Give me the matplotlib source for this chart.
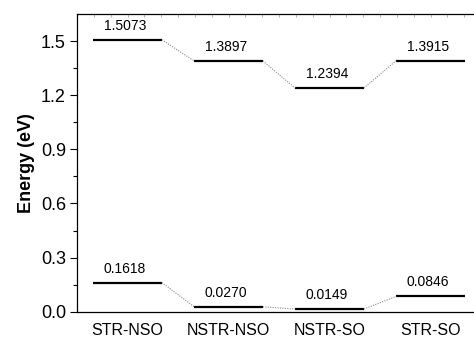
import matplotlib
matplotlib.use("Agg")
import matplotlib.pyplot as plt
import numpy as np

categories = ["STR-NSO", "NSTR-NSO", "NSTR-SO", "STR-SO"]
upper_levels = [1.5073, 1.3897, 1.2394, 1.3915]
lower_levels = [0.1618, 0.0270, 0.0149, 0.0846]
yticks = [0.0, 0.3, 0.6, 0.9, 1.2, 1.5]

plt.rcParams['font.family'] = ['Liberation Sans', 'DejaVu Sans']

fig = plt.figure(figsize=(4.74, 3.38), dpi=100)
ax = fig.add_axes([77/474, 1-311.7/338, 1-77/474, (311.7-14)/338])

hw = 0.34
x = np.arange(len(categories))
for levels in (upper_levels, lower_levels):
    for i, v in enumerate(levels):
        ax.plot([x[i]-hw, x[i]+hw], [v, v], color='black', lw=1.6, solid_capstyle='butt')
        ax.annotate(f"{v:.4f}", (x[i], v), xytext=(-2, 5), textcoords='offset points',
                    ha='center', va='bottom', fontsize=10)
    for i in range(len(levels)-1):
        ax.plot([x[i]+hw, x[i+1]-hw], [levels[i], levels[i+1]], color='#888888',
                lw=0.8, ls=(0, (1, 1.2)))

ax.set_xlim(-0.5, 3.43)
ax.set_ylim(0, 1.65)
ax.set_xticks(x)
ax.set_xticklabels(categories, fontsize=11.5)
ax.tick_params(axis='x', length=0, pad=8)
ax.set_yticks(yticks)
ax.set_yticklabels([f"{t:.1f}" for t in yticks], fontsize=13)
ax.set_yticks(np.arange(0.15, 1.65, 0.3), minor=True)
ax.tick_params(axis='y', which='major', direction='out', length=5, width=0.8, pad=3)
ax.tick_params(axis='y', which='minor', direction='out', length=3, width=0.8)
ax.set_ylabel("Energy (eV)", fontsize=13, fontweight='bold', labelpad=4)
ax.spines['right'].set_visible(False)
for s in ('left', 'bottom', 'top'):
    ax.spines[s].set_linewidth(0.9)

sec = ax.secondary_xaxis('top')
sec.set_xticks(np.arange(-0.5, 3.43, 1/6))
sec.tick_params(axis='x', direction='in', length=2, width=0.5, color='#999999', labeltop=False)
sec.spines['top'].set_visible(False)

fig.savefig("out.png", dpi=100)
